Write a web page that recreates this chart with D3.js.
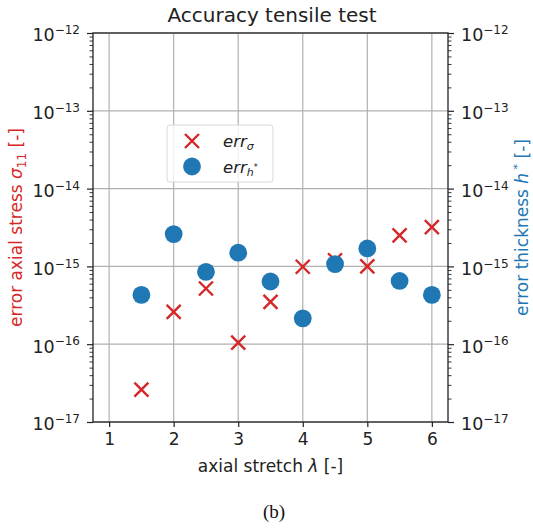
<!DOCTYPE html>
<html>
<head>
<meta charset="utf-8">
<script src="https://cdn.jsdelivr.net/npm/d3@7"></script>
<style>
  body { margin: 0; background: #fff; }
  text { font-family: "DejaVu Sans", sans-serif; }
</style>
</head>
<body>
<div id="vis"></div>
<script>
// values
const stretch = [1.5, 2, 2.5, 3, 3.5, 4, 4.5, 5, 5.5, 6]
const errSigma = [2.6e-17, 2.6e-16, 5.2e-16, 1.05e-16, 3.5e-16, 9.9e-16, 1.2e-15, 1.0e-15, 2.5e-15, 3.2e-15]
const errH = [4.3e-16, 2.6e-15, 8.5e-16, 1.5e-15, 6.4e-16, 2.15e-16, 1.07e-15, 1.7e-15, 6.5e-16, 4.3e-16]
const xTicks = [1, 2, 3, 4, 5, 6]
const yExps = [-17, -16, -15, -14, -13, -12]

const red = '#d62728', blue = '#1f77b4'
const W = 533, H = 528
const plot = { left: 93, right: 448, top: 33, bottom: 422 }

const svg = d3.select('#vis').append('svg')
  .attr('width', W).attr('height', H)

const x = d3.scaleLinear().domain([0.75, 6.25]).range([plot.left, plot.right])
const y = d3.scaleLog().domain([1e-17, 1e-12]).range([plot.bottom, plot.top])

// grid
const grid = svg.append('g').attr('stroke', '#b0b0b0').attr('stroke-width', 1.2)
xTicks.forEach(t => {
  grid.append('line').attr('x1', x(t)).attr('x2', x(t))
    .attr('y1', plot.top).attr('y2', plot.bottom)
})
yExps.forEach(e => {
  grid.append('line').attr('x1', plot.left).attr('x2', plot.right)
    .attr('y1', y(Math.pow(10, e))).attr('y2', y(Math.pow(10, e)))
})

// minor ticks values
let minors = []
for (let e = -17; e < -12; e++) {
  for (let m = 2; m <= 9; m++) minors.push(m * Math.pow(10, e))
}
const majors = yExps.map(e => Math.pow(10, e))

function yAxis(side) {
  const gen = side === 'left' ? d3.axisLeft(y) : d3.axisRight(y)
  const tx = side === 'left' ? plot.left : plot.right
  // minor
  svg.append('g').attr('transform', `translate(${tx},0)`)
    .call(gen.tickValues(minors).tickSize(3.5).tickFormat(''))
    .call(g => g.select('.domain').remove())
    .selectAll('line').attr('stroke', '#222').attr('stroke-width', 0.9)
  // major
  const g = svg.append('g').attr('transform', `translate(${tx},0)`)
    .call((side === 'left' ? d3.axisLeft(y) : d3.axisRight(y))
      .tickValues(majors).tickSize(6).tickFormat(''))
  g.select('.domain').remove()
  g.selectAll('line').attr('stroke', '#222').attr('stroke-width', 1.2)
  g.selectAll('.tick').each(function (d) {
    const t = d3.select(this).append('text')
      .attr('fill', '#222')
      .attr('font-size', 17.5)
      .attr('dy', '0.45em')
      .attr('x', side === 'left' ? -13 : 13)
      .attr('text-anchor', side === 'left' ? 'end' : 'start')
    t.append('tspan').text('10')
    t.append('tspan').attr('font-size', 12).attr('dy', '-0.6em')
      .text('\u2212' + Math.round(-Math.log10(d)))
  })
}
yAxis('left')
yAxis('right')

// x axis
const xg = svg.append('g').attr('transform', `translate(0,${plot.bottom})`)
  .call(d3.axisBottom(x).tickValues(xTicks).tickSize(5).tickPadding(6).tickFormat(d3.format('d')))
xg.select('.domain').remove()
xg.selectAll('line').attr('stroke', '#222').attr('stroke-width', 1.2)
xg.selectAll('text').attr('font-size', 17).attr('fill', '#222')
  .attr('font-family', '"DejaVu Sans", sans-serif')

// spines
svg.append('rect').attr('x', plot.left).attr('y', plot.top)
  .attr('width', plot.right - plot.left).attr('height', plot.bottom - plot.top)
  .attr('fill', 'none').attr('stroke', '#222').attr('stroke-width', 1.3)

// markers
const crossSize = 7
function cross(g, cx, cy, s) {
  g.append('path')
    .attr('d', `M${cx - s},${cy - s}L${cx + s},${cy + s}M${cx - s},${cy + s}L${cx + s},${cy - s}`)
    .attr('stroke', red).attr('stroke-width', 2.4).attr('fill', 'none')
}
const crosses = svg.append('g')
stretch.forEach((s, i) => cross(crosses, x(s), y(errSigma[i]), crossSize))

svg.append('g').selectAll('circle')
  .data(stretch)
  .enter().append('circle')
  .attr('cx', d => x(d))
  .attr('cy', (d, i) => y(errH[i]))
  .attr('r', 8.9)
  .attr('fill', blue)

// legend
const lg = svg.append('g')
lg.append('rect').attr('x', 167).attr('y', 125).attr('width', 106).attr('height', 57)
  .attr('rx', 3).attr('fill', 'rgba(255,255,255,0.8)').attr('stroke', '#d8d8d8')
cross(lg, 192, 141, crossSize)
lg.append('circle').attr('cx', 192).attr('cy', 166.5).attr('r', 8.9).attr('fill', blue)
const l1 = lg.append('text').attr('x', 223).attr('y', 147).attr('font-size', 16.5)
  .attr('font-style', 'italic').attr('fill', '#222')
l1.append('tspan').text('err')
l1.append('tspan').attr('font-size', 11).attr('dy', 3).text('σ')
const l2 = lg.append('text').attr('x', 223).attr('y', 173).attr('font-size', 16.5)
  .attr('font-style', 'italic').attr('fill', '#222')
l2.append('tspan').text('err')
l2.append('tspan').attr('font-size', 11).attr('dy', 3).text('h')
l2.append('tspan').attr('font-size', 8).attr('dy', -6).attr('font-style', 'normal').text('*')

// title
svg.append('text').attr('x', 272).attr('y', 22)
  .attr('text-anchor', 'middle').attr('font-size', 20).attr('fill', '#222')
  .text('Accuracy tensile test')

// x label
const xl = svg.append('text').attr('x', (plot.left + plot.right) / 2).attr('y', 472)
  .attr('text-anchor', 'middle').attr('font-size', 17).attr('fill', '#222')
xl.append('tspan').text('axial stretch ')
xl.append('tspan').attr('font-style', 'italic').text('λ')
xl.append('tspan').text(' [-]')

// left y label
const yl = svg.append('text')
  .attr('transform', `translate(22,${(plot.top + plot.bottom) / 2}) rotate(-90)`)
  .attr('text-anchor', 'middle').attr('font-size', 17).attr('fill', red)
yl.append('tspan').text('error axial stress ')
yl.append('tspan').attr('font-style', 'italic').text('σ')
yl.append('tspan').attr('font-size', 12).attr('dy', 4).text('11')
yl.append('tspan').attr('dy', -4).text(' [-]')

// right y label
const yr = svg.append('text')
  .attr('transform', `translate(528,${(plot.top + plot.bottom) / 2}) rotate(-90)`)
  .attr('text-anchor', 'middle').attr('font-size', 17).attr('fill', blue)
yr.append('tspan').text('error thickness ')
yr.append('tspan').attr('font-style', 'italic').text('h')
yr.append('tspan').attr('font-size', 11).attr('dy', -7).text(' *')
yr.append('tspan').attr('dy', 7).text(' [-]')

// caption
svg.append('text').attr('x', 274).attr('y', 518).attr('text-anchor', 'middle')
  .style('font-family', '"Liberation Serif", "DejaVu Serif", serif')
  .attr('font-size', 19).attr('fill', '#111').text('(b)')
</script>
</body>
</html>
